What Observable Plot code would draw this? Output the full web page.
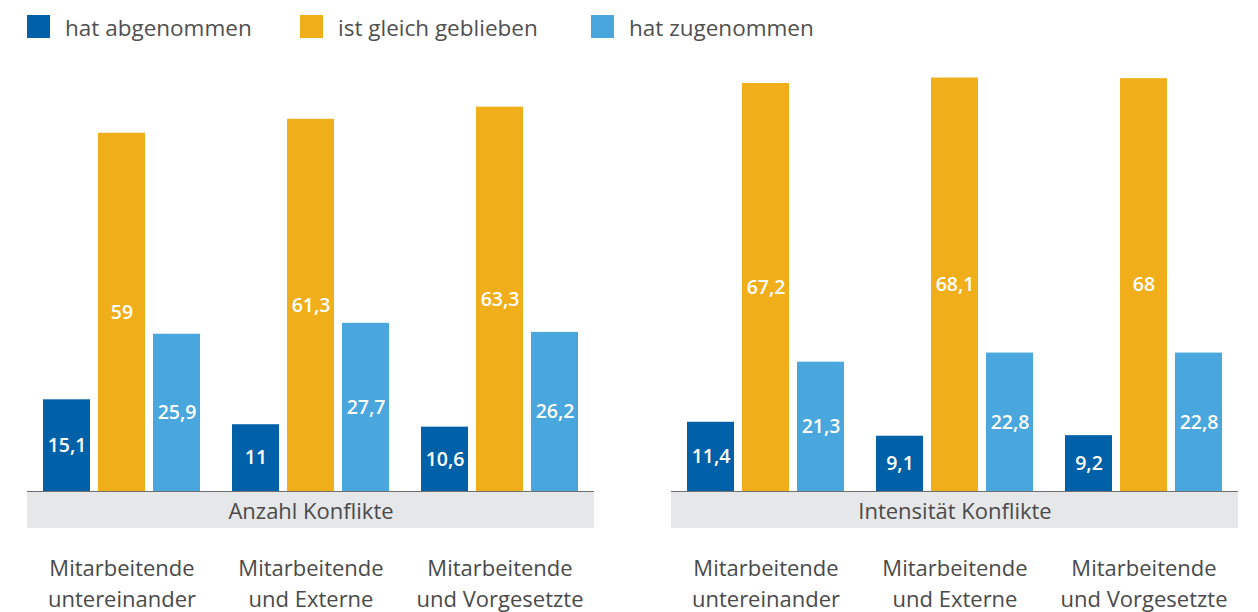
<!DOCTYPE html>
<html>
<head>
<meta charset="utf-8">
<script src="https://cdn.jsdelivr.net/npm/d3@7"></script>
<script src="https://cdn.jsdelivr.net/npm/@observablehq/plot@0.6"></script>
<style>
  html, body { margin: 0; padding: 0; background: #fff; }
  body { width: 1258px; height: 612px; overflow: hidden; font-family: "Open Sans", sans-serif; }
  #legend { position: relative; height: 50px; }
  .item { position: absolute; top: 15px; height: 23px; }
  .sw { position: absolute; left: 0; top: 0; width: 23px; height: 23px; display: block; }
  .lab { position: absolute; left: 38px; top: -1px; white-space: nowrap; font-size: 22.5px; line-height: 28px; color: #505050; }
  #charts { display: flex; }
  #charts svg { display: block; }
</style>
</head>
<body>
<div id="legend"></div>
<div id="charts"></div>
<script>
const series = ["hat abgenommen", "ist gleich geblieben", "hat zugenommen"];
const colors = ["#0061a8", "#f1ae1b", "#49a7dd"];
const groups = ["Mitarbeitende untereinander", "Mitarbeitende und Externe", "Mitarbeitende und Vorgesetzte"];
const groupLabels = ["Mitarbeitende\nuntereinander", "Mitarbeitende\nund Externe", "Mitarbeitende\nund Vorgesetzte"];
const panels = ["Anzahl Konflikte", "Intensität Konflikte"];

// values per series, in group order
const anzahlAbgenommen = [15.1, 11, 10.6];
const anzahlGleich = [59, 61.3, 63.3];
const anzahlZugenommen = [25.9, 27.7, 26.2];
const intensitaetAbgenommen = [11.4, 9.1, 9.2];
const intensitaetGleich = [67.2, 68.1, 68];
const intensitaetZugenommen = [21.3, 22.8, 22.8];

const legendLeft = [27, 300, 591];

// legend
const legend = document.getElementById("legend");
series.forEach((s, i) => {
  const it = document.createElement("div");
  it.className = "item";
  it.style.left = legendLeft[i] + "px";
  it.innerHTML = `<span class="sw" style="background:${colors[i]}"></span><span class="lab">${s}</span>`;
  legend.appendChild(it);
});

function rows(vals) {
  const out = [];
  groups.forEach((g, gi) => {
    series.forEach((s, si) => out.push({group: g, series: s, value: vals[si][gi]}));
  });
  return out;
}

const panelData = [
  rows([anzahlAbgenommen, anzahlGleich, anzahlZugenommen]),
  rows([intensitaetAbgenommen, intensitaetGleich, intensitaetZugenommen])
];

const fmt = v => String(v).replace(".", ",");
const bandDepth = 37 / (425 / 70); // band below baseline in y units

function makePanel(data, title, width, marginLeft, marginRight) {
  return Plot.plot({
    width,
    height: 562,
    marginTop: 16,
    marginBottom: 121,
    marginLeft,
    marginRight,
    style: {fontFamily: "Open Sans, sans-serif", overflow: "visible"},
    fx: {domain: groups, padding: 0, axis: null},
    x: {domain: series, paddingInner: 0.15, paddingOuter: 0.28, axis: null},
    y: {domain: [0, 70], axis: null},
    color: {domain: series, range: colors},
    marks: [
      Plot.rect([0], {y1: 0, y2: -bandDepth, fill: "#e6e7e9", shapeRendering: "crispEdges"}),
      Plot.ruleY([0], {stroke: "#707070", strokeWidth: 1.2, shapeRendering: "crispEdges"}),
      Plot.barY(data, {fx: "group", x: "series", y: "value", fill: "series"}),
      Plot.text(data, {
        fx: "group", x: "series", y: d => d.value / 2,
        text: d => fmt(d.value), fill: "white", fontWeight: 600, fontSize: 19.5
      }),
      Plot.text([groups[1]], {
        fx: d => d, text: [title], frameAnchor: "bottom", dy: 20,
        fontSize: 22, fill: "#4a4a4a", lineAnchor: "middle"
      }),
      Plot.text(groups, {
        fx: d => d, text: (d, i) => groupLabels[i], frameAnchor: "bottom", dy: 90,
        fontSize: 22, fill: "#4a4a4a", lineAnchor: "middle", lineHeight: 1.4
      })
    ]
  });
}

const charts = document.getElementById("charts");
charts.appendChild(makePanel(panelData[0], panels[0], 630, 27, 36));
charts.appendChild(makePanel(panelData[1], panels[1], 628, 41, 20));
</script>
</body>
</html>
